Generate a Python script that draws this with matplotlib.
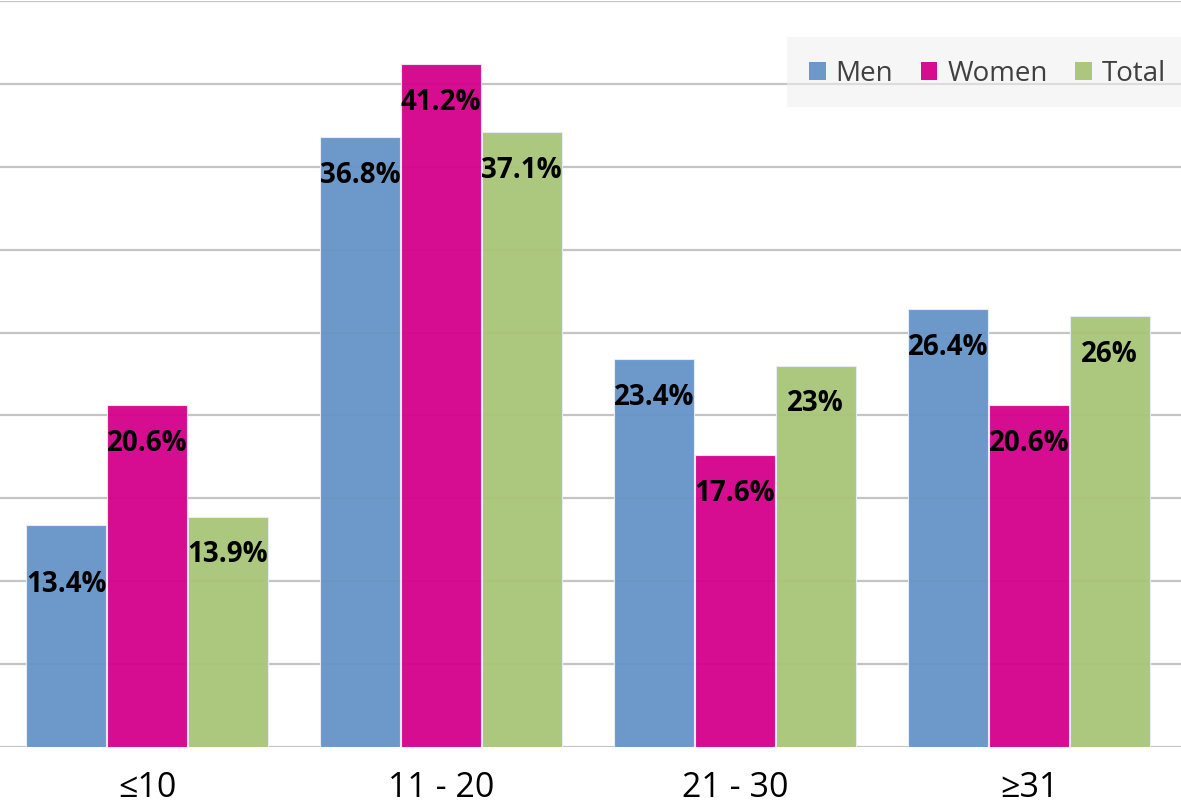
import numpy as np
import matplotlib.pyplot as plt
from matplotlib.patches import Rectangle, Patch

categories = ["≤10", "11 - 20", "21 - 30", "≥31"]
men = [13.4, 36.8, 23.4, 26.4]
women = [20.6, 41.2, 17.6, 20.6]
total = [13.9, 37.1, 23.0, 26.0]
labels_men = ["13.4%", "36.8%", "23.4%", "26.4%"]
labels_women = ["20.6%", "41.2%", "17.6%", "20.6%"]
labels_total = ["13.9%", "37.1%", "23%", "26%"]

plt.rcParams["font.family"] = ["Open Sans", "DejaVu Sans"]

fig = plt.figure(figsize=(11.81, 8.02), dpi=100)
ax = fig.add_axes([0, 55 / 802, 1, 746 / 802])

x = np.arange(len(categories))
width = 0.272
step = 0.274

series = [
    (men, labels_men, "#6594c7", "Men"),
    (women, labels_women, "#d4008a", "Women"),
    (total, labels_total, "#a8c477", "Total"),
]

for i, (vals, labs, color, name) in enumerate(series):
    pos = x + (i - 1) * step
    ax.bar(pos, vals, width, color=color, alpha=0.95,
           edgecolor="#e8eef5", linewidth=0.8, zorder=2)
    for px, v, lab in zip(pos, vals, labs):
        # the 13.4% label sits a bit lower in the original
        off = -43 if lab == "13.4%" else -27.5
        ax.annotate(lab, (px, v), xytext=(0, off), textcoords="offset points",
                    ha="center", va="center", fontsize=20, fontweight="bold",
                    color="black", zorder=3)

ax.set_xlim(-0.5, 3.517)
ax.set_ylim(0, 45)
ax.set_yticks(np.arange(0, 46, 5))
ax.set_yticklabels([])
ax.yaxis.grid(True, color="#c4c4c4", linewidth=1.6)
ax.set_axisbelow(True)
ax.tick_params(axis="y", length=0)
ax.tick_params(axis="x", length=0, pad=17, labelsize=24.5)
ax.set_xticks(x)
ax.set_xticklabels(categories)
for s in ax.spines.values():
    s.set_visible(False)

# light legend background panel
ax.add_patch(Rectangle((787 / 1181, (747 - 107) / 746), 394 / 1181, 70 / 746,
                       transform=ax.transAxes, facecolor="#f0f0f0", alpha=0.55,
                       edgecolor="none", zorder=4, clip_on=False))

handles = [Patch(facecolor=c, edgecolor="none", alpha=0.95) for _, _, c, _ in series]
leg = ax.legend(handles, [s[3] for s in series], ncol=3, frameon=False,
                loc="center right", bbox_to_anchor=(1166 / 1181, (747 - 74) / 746),
                borderaxespad=0, borderpad=0, fontsize=20, handlelength=0.6,
                handleheight=0.6, handletextpad=0.35, columnspacing=1.0)
leg.set_zorder(5)
for t in leg.get_texts():
    t.set_color("#404040")

fig.savefig("out.png", dpi=100)
